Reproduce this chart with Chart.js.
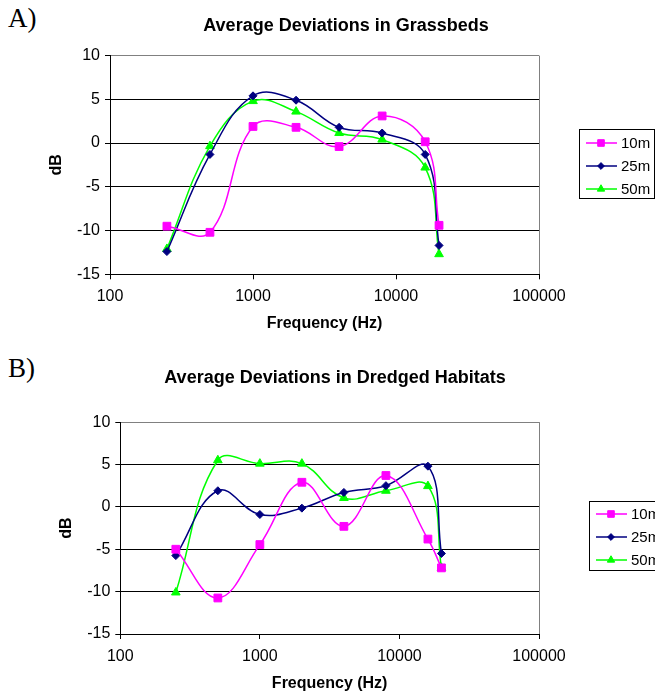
<!DOCTYPE html>
<html lang="en">
<head>
<meta charset="UTF-8" />
<title>Average Deviations</title>
<script src="https://cdn.jsdelivr.net/npm/chart.js"></script>
<style>
  body { margin: 0; background: #fff; width: 655px; height: 694px; position: relative; overflow: hidden; }
  .panel { position: absolute; left: 8px; font-family: "Liberation Serif", "Times New Roman", serif; font-size: 27px; line-height: 1; color: #000; }
  canvas { position: absolute; }
</style>
</head>
<body>
<div class="panel" style="top:5px">A)</div>
<div class="panel" style="top:355px">B)</div>
<canvas id="chartA" width="618" height="340" style="left:37px;top:0"></canvas>
<canvas id="chartB" width="640" height="354" style="left:15px;top:340px"></canvas>

<script>
  const FONT = '"Liberation Sans", Arial, sans-serif';

  // frequencies (Hz) and deviations (dB)
  const freqs = [250, 500, 1000, 2000, 4000, 8000, 16000, 20000];
  const grass10 = [-9.5, -10.2, 1.9, 1.8, -0.4, 3.1, 0.15, -9.4];
  const grass25 = [-12.4, -1.3, 5.4, 4.9, 1.8, 1.15, -1.3, -11.7];
  const grass50 = [-12.1, -0.35, 4.8, 3.6, 1.15, 0.4, -2.8, -12.7];
  const dredged10 = [-5.0, -10.75, -4.45, 2.9, -2.3, 3.7, -3.8, -7.2];
  const dredged25 = [-5.75, 1.9, -0.9, -0.15, 1.7, 2.5, 4.8, -5.5];
  const dredged50 = [-10.1, 5.5, 5.1, 5.1, 1.05, 1.9, 2.45, -7.2];
  const seriesNames = ['10m', '25m', '50m'];
  const xTicks = [100, 1000, 10000, 100000];
  const yTicks = [-15, -10, -5, 0, 5, 10];

  const seriesColors = ['#ff00ff', '#000080', '#00ff00'];
  const pointStyles = ['rect', 'rectRot', 'triangle'];
  const pointSizes = [5.5, 4, 5];

  // boxed legend drawn at a fixed spot, like the Excel one
  const boxLegend = {
    id: 'boxLegend',
    afterDraw(chart, args, o) {
      const ctx = chart.ctx;
      ctx.save();
      ctx.strokeStyle = '#000';
      ctx.lineWidth = 1;
      ctx.strokeRect(o.x + 0.5, o.y + 0.5, o.w, o.h);
      chart.data.datasets.forEach((ds, i) => {
        const y = o.y + o.first + i * o.step;
        ctx.strokeStyle = ds.borderColor;
        ctx.fillStyle = ds.backgroundColor;
        ctx.lineWidth = ds.borderWidth;
        ctx.beginPath();
        ctx.moveTo(o.x + 7, y);
        ctx.lineTo(o.x + 38, y);
        ctx.stroke();
        ctx.lineWidth = 1;
        Chart.helpers.drawPoint(ctx, { pointStyle: ds.pointStyle, radius: ds.pointRadius * 0.85, borderWidth: 1, rotation: 0 }, o.x + 22, y);
        ctx.fillStyle = '#000';
        ctx.font = '15px ' + FONT;
        ctx.textBaseline = 'middle';
        ctx.fillText(ds.label, o.x + 42, y + 1);
      });
      ctx.restore();
    }
  };

  function makeChart(id, title, values, L) {
    const datasets = values.map((vals, i) => ({
      label: seriesNames[i],
      data: freqs.map((f, j) => ({ x: f, y: vals[j] })),
      borderColor: seriesColors[i],
      backgroundColor: seriesColors[i],
      pointStyle: pointStyles[i],
      pointRadius: pointSizes[i],
      pointBorderWidth: 1,
      borderWidth: 1.5,
      tension: 0.4,
      clip: false
    }));
    return new Chart(document.getElementById(id), {
      type: 'line',
      data: { datasets },
      options: {
        responsive: false,
        animation: false,
        layout: { padding: 0 },
        plugins: {
          legend: { display: false },
          tooltip: { enabled: false },
          title: {
            display: true, text: title, color: '#000',
            font: { family: FONT, size: 18, weight: 'bold' },
            padding: { top: L.titleTop, bottom: L.titleBottom }
          },
          boxLegend: L.legend
        },
        scales: {
          x: {
            type: 'logarithmic', min: 100, max: 100000,
            afterBuildTicks: s => { s.ticks = xTicks.map(v => ({ value: v })); },
            afterFit: s => { s.height = L.xHeight; },
            ticks: { color: '#000', font: { family: FONT, size: 16 }, padding: 8, maxRotation: 0, autoSkip: false, callback: v => String(v) },
            grid: { color: c => (c.tick && c.tick.value === 100000) ? '#808080' : 'rgba(0,0,0,0)', tickColor: '#000', tickLength: 5 },
            border: { color: '#000', width: 1 },
            title: { display: true, text: 'Frequency (Hz)', color: '#000', font: { family: FONT, size: 16, weight: 'bold' }, padding: { top: 0, bottom: L.xTitlePad } }
          },
          y: {
            min: -15, max: 10,
            afterBuildTicks: s => { s.ticks = yTicks.map(v => ({ value: v })); },
            afterFit: s => { s.width = L.yWidth; },
            ticks: { color: '#000', font: { family: FONT, size: 16 }, padding: 5 },
            grid: { color: c => (c.tick && c.tick.value === 10) ? '#808080' : '#000', tickColor: '#000', tickLength: 5 },
            border: { color: '#000', width: 1 },
            title: { display: true, text: 'dB', color: '#000', font: { family: FONT, size: 16, weight: 'bold' }, padding: { top: L.yTitlePad, bottom: 0 } }
          },
          // empty right-hand box that keeps room for the legend
          gap: {
            position: 'right', display: true,
            afterFit: s => { s.width = L.gap; },
            ticks: { display: false },
            grid: { display: false },
            border: { display: false }
          }
        }
      },
      plugins: [boxLegend]
    });
  }

  makeChart('chartA', 'Average Deviations in Grassbeds', [grass10, grass25, grass50], {
    titleTop: 15, titleBottom: 19, xHeight: 65.7, xTitlePad: 6.4, yWidth: 73, yTitlePad: 10.4, gap: 116,
    legend: { x: 542, y: 129, w: 75, h: 69, first: 14, step: 23 }
  });

  makeChart('chartB', 'Average Deviations in Dredged Habitats', [dredged10, dredged25, dredged50], {
    titleTop: 27, titleBottom: 33.5, xHeight: 60, xTitlePad: 0.6, yWidth: 105.3, yTitlePad: 42.4, gap: 116,
    legend: { x: 574, y: 161, w: 100, h: 69, first: 13, step: 23 }
  });
</script>
</body>
</html>
